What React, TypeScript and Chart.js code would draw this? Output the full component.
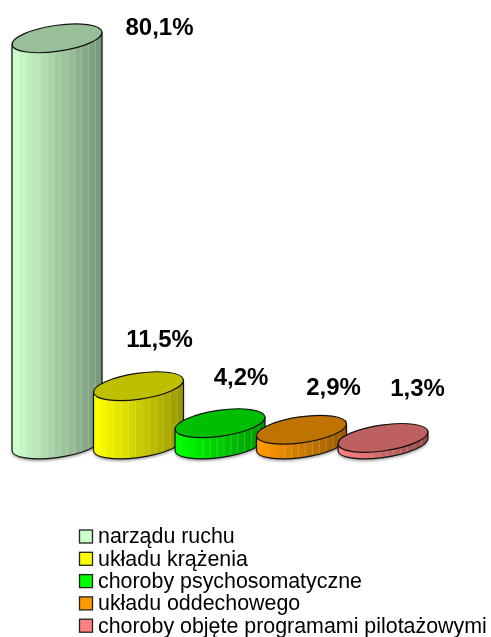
import React, { useEffect, useRef } from "react";
import { Chart, registerables } from "chart.js";

Chart.register(...registerables);

const categories = [
  "narządu ruchu",
  "układu krążenia",
  "choroby psychosomatyczne",
  "układu oddechowego",
  "choroby objęte programami pilotażowymi",
];
const values = [80.1, 11.5, 4.2, 2.9, 1.3];
const valueLabels = ["80,1%", "11,5%", "4,2%", "2,9%", "1,3%"];
const colors: [number, number, number][] = [
  [204, 255, 204],
  [255, 255, 0],
  [0, 255, 0],
  [255, 153, 0],
  [255, 128, 128],
];

const FONT = '"Liberation Sans", Arial, sans-serif';
const rgb = (c: number[], k: number) =>
  `rgb(${c.map((v) => Math.min(255, Math.round(v * k))).join(",")})`;

const cylinderPlugin = {
  id: "cylinders",
  beforeDatasetDraw(chart: any, args: any) {
    const { ctx } = chart;
    const meta = args.meta;
    const rot = (-8.2 * Math.PI) / 180;
    const t0 = Math.atan((-13 / 45.4) * Math.tan(rot));
    meta.data.forEach((bar: any, i: number) => {
      const c = colors[i];
      const rx = bar.width / 2 + 0.4;
      const ry = rx * 0.286;
      const cx = bar.x;
      const top = bar.y;
      const base = bar.base;
      const rightX = Math.cos(t0) * Math.cos(rot) * rx - Math.sin(t0) * Math.sin(rot) * ry;
      const rightY = Math.cos(t0) * Math.sin(rot) * rx + Math.sin(t0) * Math.cos(rot) * ry;
      const body = () => {
        ctx.beginPath();
        ctx.moveTo(cx + rightX, top + rightY);
        ctx.ellipse(cx, base, rx, ry, rot, t0, t0 + Math.PI, false);
        ctx.lineTo(cx - rightX, top - rightY);
        ctx.closePath();
      };
      ctx.save();
      ctx.shadowColor = "rgba(0,0,0,0.4)";
      ctx.shadowBlur = 3;
      ctx.shadowOffsetY = 2;
      ctx.fillStyle = rgb(c, 1);
      body();
      ctx.fill();
      ctx.restore();
      ctx.save();
      body();
      ctx.clip();
      const n = 13;
      const left = cx - rightX;
      const w = (2 * rightX) / n;
      for (let s = 0; s < n; s++) {
        const f = s / (n - 1);
        ctx.fillStyle = rgb(c, 1 - 0.4 * f);
        ctx.fillRect(left + s * w, top - 30, w + 0.5, base - top + 80);
      }
      ctx.fillStyle = "rgba(255,255,255,0.2)";
      for (let s = 4; s < n; s++) {
        ctx.fillRect(left + s * w, top - 30, 1, base - top + 80);
      }
      ctx.restore();
      ctx.strokeStyle = "#111";
      ctx.lineWidth = 1.2;
      body();
      ctx.stroke();
      ctx.beginPath();
      ctx.ellipse(cx, top, rx, ry, rot, 0, Math.PI * 2);
      ctx.fillStyle = rgb(c, 0.75);
      ctx.fill();
      ctx.stroke();
    });
    return false;
  },
  afterDatasetsDraw(chart: any) {
    const { ctx } = chart;
    const bars = chart.getDatasetMeta(0).data;
    const offsets = [
      [102.5, -10],
      [21, -45.5],
      [21, -44.5],
      [32, -41],
      [34.5, -49],
    ];
    ctx.save();
    ctx.font = `bold 24px ${FONT}`;
    ctx.fillStyle = "#000";
    ctx.textAlign = "center";
    ctx.textBaseline = "middle";
    bars.forEach((bar: any, i: number) => {
      ctx.fillText(valueLabels[i], bar.x + offsets[i][0], bar.y + offsets[i][1]);
    });
    ctx.font = `21.4px ${FONT}`;
    ctx.textAlign = "left";
    categories.forEach((name, i) => {
      const y = 536.5 + i * 22.3;
      ctx.fillStyle = rgb(colors[i], 1);
      ctx.fillRect(79.5, y - 6.5, 13, 13);
      ctx.strokeStyle = "#222";
      ctx.lineWidth = 1.3;
      ctx.strokeRect(79.5, y - 6.5, 13, 13);
      ctx.fillStyle = "#000";
      ctx.fillText(name, 98, y + 1);
    });
    ctx.restore();
  },
};

export default function App() {
  const ref = useRef<HTMLCanvasElement>(null);
  useEffect(() => {
    document.body.style.margin = "0";
    const chart = new Chart(ref.current!, {
      type: "bar",
      data: {
        labels: categories,
        datasets: [
          {
            data: values,
            backgroundColor: colors.map((c) => rgb(c, 1)),
            barPercentage: 1.104,
            categoryPercentage: 1,
          },
        ],
      },
      options: {
        responsive: false,
        animation: false,
        layout: { padding: { left: 16.25, right: 67.25, top: 13.5, bottom: 192.5 } },
        plugins: { legend: { display: false }, title: { display: false }, tooltip: { enabled: false } },
        scales: {
          x: { display: false },
          y: { display: false, min: 0, max: 85 },
        },
      },
      plugins: [cylinderPlugin],
    });
    return () => chart.destroy();
  }, []);
  return (
    <div style={{ width: 491, height: 637 }}>
      <canvas ref={ref} width={491} height={637} style={{ display: "block" }} />
    </div>
  );
}
